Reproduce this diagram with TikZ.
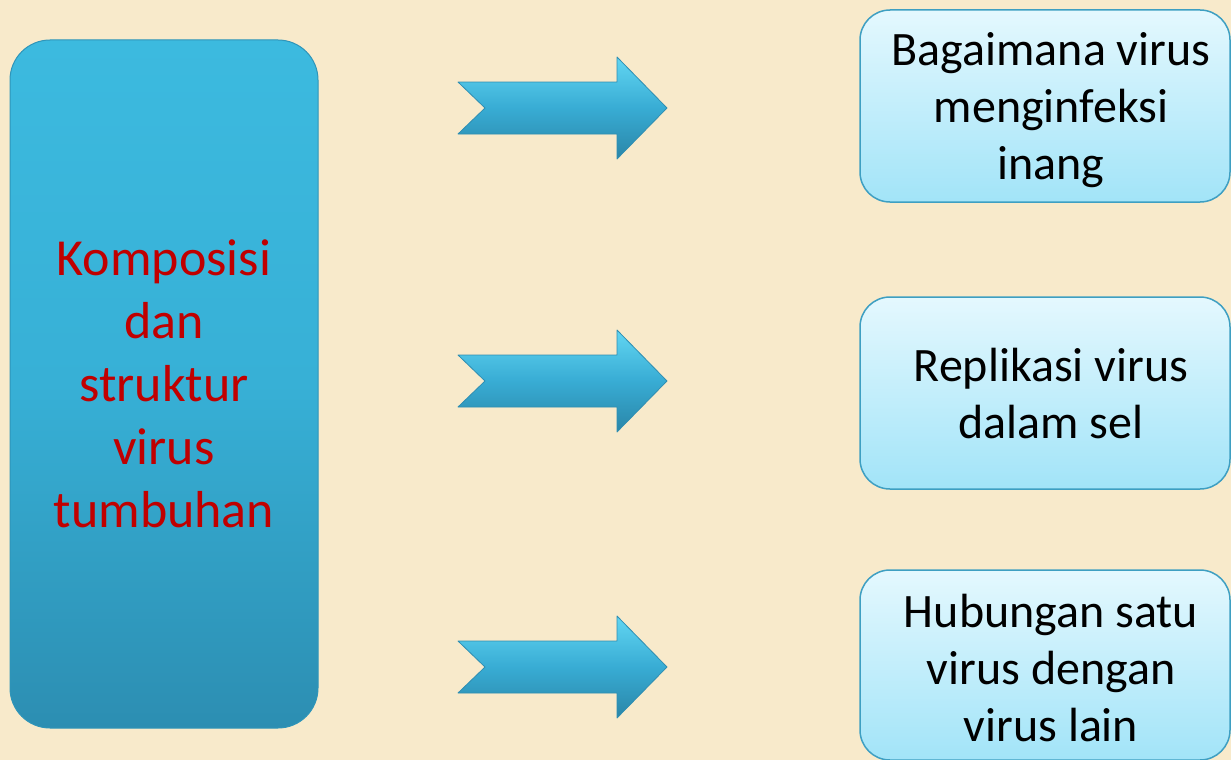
\documentclass[tikz,border=0pt]{standalone}
\usepackage{fontspec}
\setmainfont{Carlito}
\definecolor{bgc}{HTML}{F8EACB}
\definecolor{lefttop}{HTML}{3CBADF}
\definecolor{leftmid}{HTML}{37B0D6}
\definecolor{leftbot}{HTML}{2C8EB2}
\definecolor{leftedge}{HTML}{2F95B9}
\definecolor{redtxt}{HTML}{C00000}
\definecolor{boxtop}{HTML}{E4F8FE}
\definecolor{boxbot}{HTML}{A2E4F8}
\definecolor{boxedge}{HTML}{3E9FC2}
\definecolor{arrtop}{HTML}{62D6F2}
\definecolor{arrmid}{HTML}{38ACD4}
\definecolor{arrbot}{HTML}{2A86A8}
\definecolor{arredge}{HTML}{2F8EB2}
\tikzset{
  leftbox/.style={rounded corners=40pt, minimum width=308pt, minimum height=688pt,
    top color=lefttop, bottom color=leftbot, middle color=leftmid, draw=leftedge, line width=1pt,
    align=center, text=redtxt, font=\fontsize{52}{63}\selectfont, inner sep=0pt},
  topicbox/.style={rounded corners=30pt, minimum width=370pt, minimum height=192pt,
    top color=boxtop, bottom color=boxbot, draw=boxedge, line width=1.5pt, inner sep=0pt},
  topictext/.style={align=center, text=black, font=\fontsize{48}{57}\selectfont, inner sep=0pt},
  fatarrow/.style={top color=arrtop, bottom color=arrbot, middle color=arrmid, draw=arredge, line width=0.8pt, line join=round}
}
\begin{document}
\begin{tikzpicture}[x=1pt,y=-1pt]
\fill[bgc] (0,0) rectangle (1231,760);
\useasboundingbox (0,0) rectangle (1231,760);
\node[leftbox] (L) at (164,384) {Komposisi\\dan\\struktur\\virus\\tumbuhan};
\node[topicbox] (T1) at (1045,106) {};
\node[topicbox] (T2) at (1045,393) {};
\node[topicbox, minimum height=190pt] (T3) at (1045,665) {};
\node[topictext] (X1) at ([shift={(6,4)}]T1.center) {Bagaimana virus\\menginfeksi\\inang};
\node[topictext] (X2) at ([shift={(6,1)}]T2.center) {Replikasi virus\\dalam sel};
\node[topictext] (X3) at ([shift={(6,3)}]T3.center) {Hubungan satu\\virus dengan\\virus lain};
\foreach \cy in {108,381,667}{
  \path[fatarrow] (458,\cy-26) -- (617,\cy-26) -- (617,\cy-51) -- (667,\cy)
     -- (617,\cy+51) -- (617,\cy+26) -- (458,\cy+26) -- (485,\cy) -- cycle;
}
\end{tikzpicture}
\end{document}
